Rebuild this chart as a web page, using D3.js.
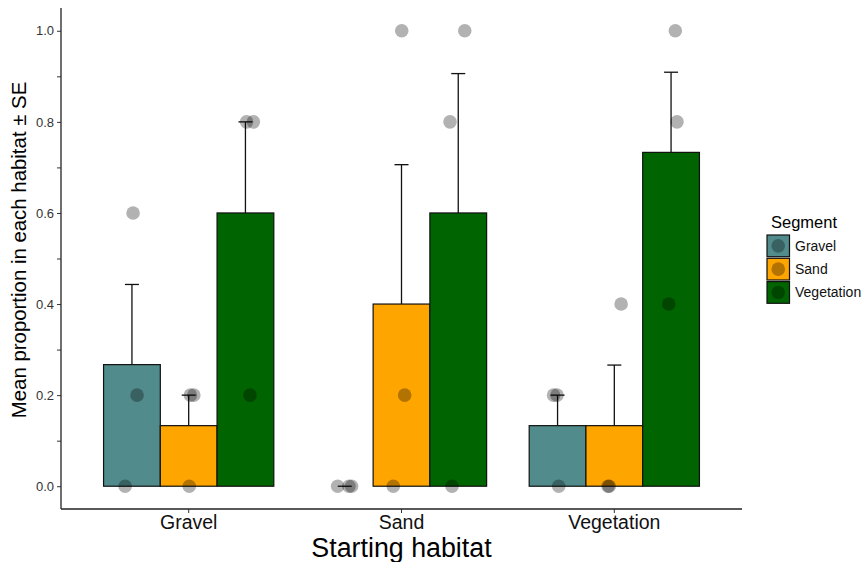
<!DOCTYPE html>
<html>
<head>
<meta charset="utf-8">
<script src="https://cdn.jsdelivr.net/npm/d3@7"></script>
<style>
  html, body { margin: 0; padding: 0; background: #fff; }
  svg { display: block; font-family: "Liberation Sans", Arial, sans-serif; }
</style>
</head>
<body>
<svg id="chart" width="862" height="562"></svg>
<script>
// Starting habitat groups and the segment each fish ended up in
const habitats = ["Gravel", "Sand", "Vegetation"];
const segments = ["Gravel", "Sand", "Vegetation"];
const segmentColors = ["#528B8B", "#FFA500", "#006400"];

// Mean proportion per segment, one array per starting habitat
const meanGravel = [0.267, 0.133, 0.600];
const meanSand = [0.000, 0.400, 0.600];
const meanVegetation = [0.133, 0.133, 0.733];

// Standard errors, same layout
const seGravel = [0.176, 0.067, 0.200];
const seSand = [0.000, 0.306, 0.306];
const seVegetation = [0.067, 0.133, 0.176];

// Individual replicate proportions (three trials per bar)
const rawGravel = [[0, 0.2, 0.6], [0, 0.2, 0.2], [0.2, 0.8, 0.8]];
const rawSand = [[0, 0, 0], [0, 0.2, 1.0], [0, 0.8, 1.0]];
const rawVegetation = [[0, 0.2, 0.2], [0, 0, 0.4], [0.4, 0.8, 1.0]];

// Horizontal jitter of replicate points, as a fraction of bar width
const jitterGravel = [[-0.12, 0.09, 0.02], [0.01, 0.09, 0.03], [0.08, 0.02, 0.14]];
const jitterSand = [[-0.125, 0.074, 0.12], [-0.145, 0.056, 0.004], [-0.11, -0.145, 0.115]];
const jitterVegetation = [[0.02, -0.07, -0.01], [-0.11, -0.09, 0.12], [-0.04, 0.105, 0.075]];

const yTicks = [0, 0.1, 0.2, 0.3, 0.4, 0.5, 0.6, 0.7, 0.8, 0.9, 1.0];
const yLabelTicks = [0, 0.2, 0.4, 0.6, 0.8, 1.0];

const means = [meanGravel, meanSand, meanVegetation];
const ses = [seGravel, seSand, seVegetation];
const raws = [rawGravel, rawSand, rawVegetation];
const jitters = [jitterGravel, jitterSand, jitterVegetation];

const bars = [];
const points = [];
habitats.forEach((h, hi) => {
  segments.forEach((s, si) => {
    bars.push({ habitat: h, segment: s, mean: means[hi][si], se: ses[hi][si] });
    raws[hi][si].forEach((v, k) => {
      points.push({ habitat: h, segment: s, value: v, jitter: jitters[hi][si][k] });
    });
  });
});

const svg = d3.select("#chart");
const panel = { left: 61, right: 742, top: 8, bottom: 509 };

const x = d3.scaleBand().domain(habitats)
  .range([panel.left, panel.right]).paddingInner(0).paddingOuter(0.1);
const dodgeWidth = x.bandwidth() * 0.8;
const xSeg = d3.scaleBand().domain(segments).range([-dodgeWidth / 2, dodgeWidth / 2]);
const y = d3.scaleLinear().domain([-0.05, 1.05]).range([panel.bottom, panel.top]);
const color = d3.scaleOrdinal().domain(segments).range(segmentColors);

const barX = d => x(d.habitat) + x.bandwidth() / 2 + xSeg(d.segment);
const barCx = d => barX(d) + xSeg.bandwidth() / 2;

// error bars (upper half, drawn beneath the bars)
const eb = svg.append("g").attr("stroke", "#111").attr("stroke-width", 1.3);
const capHalf = 7;
eb.selectAll("line.v").data(bars).join("line")
  .attr("x1", barCx).attr("x2", barCx)
  .attr("y1", d => y(d.mean)).attr("y2", d => y(d.mean + d.se));
eb.selectAll("line.c").data(bars).join("line")
  .attr("x1", d => barCx(d) - capHalf).attr("x2", d => barCx(d) + capHalf)
  .attr("y1", d => y(d.mean + d.se)).attr("y2", d => y(d.mean + d.se));

// bars
svg.append("g").selectAll("rect").data(bars).join("rect")
  .attr("x", barX)
  .attr("width", xSeg.bandwidth())
  .attr("y", d => y(d.mean))
  .attr("height", d => y(0) - y(d.mean))
  .attr("fill", d => color(d.segment))
  .attr("stroke", "#111").attr("stroke-width", 1.2);

// replicate points, translucent so overlaps darken
const pointFill = "#000";
const pointOpacity = 0.3;
svg.append("g").selectAll("circle").data(points).join("circle")
  .attr("cx", d => x(d.habitat) + x.bandwidth() / 2 + xSeg(d.segment) + xSeg.bandwidth() * (0.5 + d.jitter))
  .attr("cy", d => y(d.value))
  .attr("r", 6.8)
  .attr("fill", pointFill).attr("fill-opacity", pointOpacity);

// y axis
const yAxis = d3.axisLeft(y).tickValues(yTicks).tickSize(4).tickPadding(3)
  .tickFormat(v => yLabelTicks.some(t => Math.abs(t - v) < 1e-9) ? d3.format(".1f")(v) : "");
const gy = svg.append("g").attr("transform", `translate(${panel.left},0)`).call(yAxis);
gy.select(".domain").remove();
gy.append("line").attr("x1", 0).attr("x2", 0).attr("y1", panel.top).attr("y2", panel.bottom)
  .attr("stroke", "#222").attr("stroke-width", 1.3);
gy.selectAll(".tick line").attr("stroke", "#333");
gy.selectAll(".tick text").attr("fill", "#333").style("font-size", "13px")
  .style("font-family", "Liberation Sans, Arial, sans-serif");

// x axis
const xAxis = d3.axisBottom(x).tickSize(4).tickPadding(2);
const gx = svg.append("g").attr("transform", `translate(0,${panel.bottom})`).call(xAxis);
gx.select(".domain").remove();
gx.append("line").attr("x1", panel.left).attr("x2", panel.right).attr("y1", 0).attr("y2", 0)
  .attr("stroke", "#222").attr("stroke-width", 1.3);
gx.selectAll(".tick line").attr("stroke", "#333");
gx.selectAll(".tick text").attr("fill", "#111").style("font-size", "19.5px")
  .style("font-family", "Liberation Sans, Arial, sans-serif");

// axis titles
svg.append("text")
  .attr("x", (panel.left + panel.right) / 2).attr("y", 557.3)
  .attr("text-anchor", "middle").attr("fill", "#000")
  .style("font-size", "26.8px").text("Starting habitat");

svg.append("text")
  .attr("transform", "translate(26,250) rotate(-90)")
  .attr("text-anchor", "middle").attr("fill", "#000")
  .style("font-size", "20.4px").text("Mean proportion in each habitat ± SE");

// legend
const legend = svg.append("g").attr("transform", "translate(767,235)");
legend.append("text").attr("x", 4).attr("y", -7)
  .attr("fill", "#000").style("font-size", "16.5px").text("Segment");
const keyStep = 23.3;
const keys = legend.selectAll("g.key").data(segments).join("g")
  .attr("transform", (d, i) => `translate(0,${i * keyStep})`);
keys.append("rect").attr("width", 22.5).attr("height", 21.7)
  .attr("fill", d => color(d)).attr("stroke", "#111").attr("stroke-width", 1.2);
keys.append("circle").attr("cx", 11.25).attr("cy", 10.85).attr("r", 6.8)
  .attr("fill", pointFill).attr("fill-opacity", pointOpacity);
keys.append("text").attr("x", 28).attr("y", 10.85).attr("dy", "0.36em")
  .attr("fill", "#111").style("font-size", "14px").text(d => d);
</script>
</body>
</html>
